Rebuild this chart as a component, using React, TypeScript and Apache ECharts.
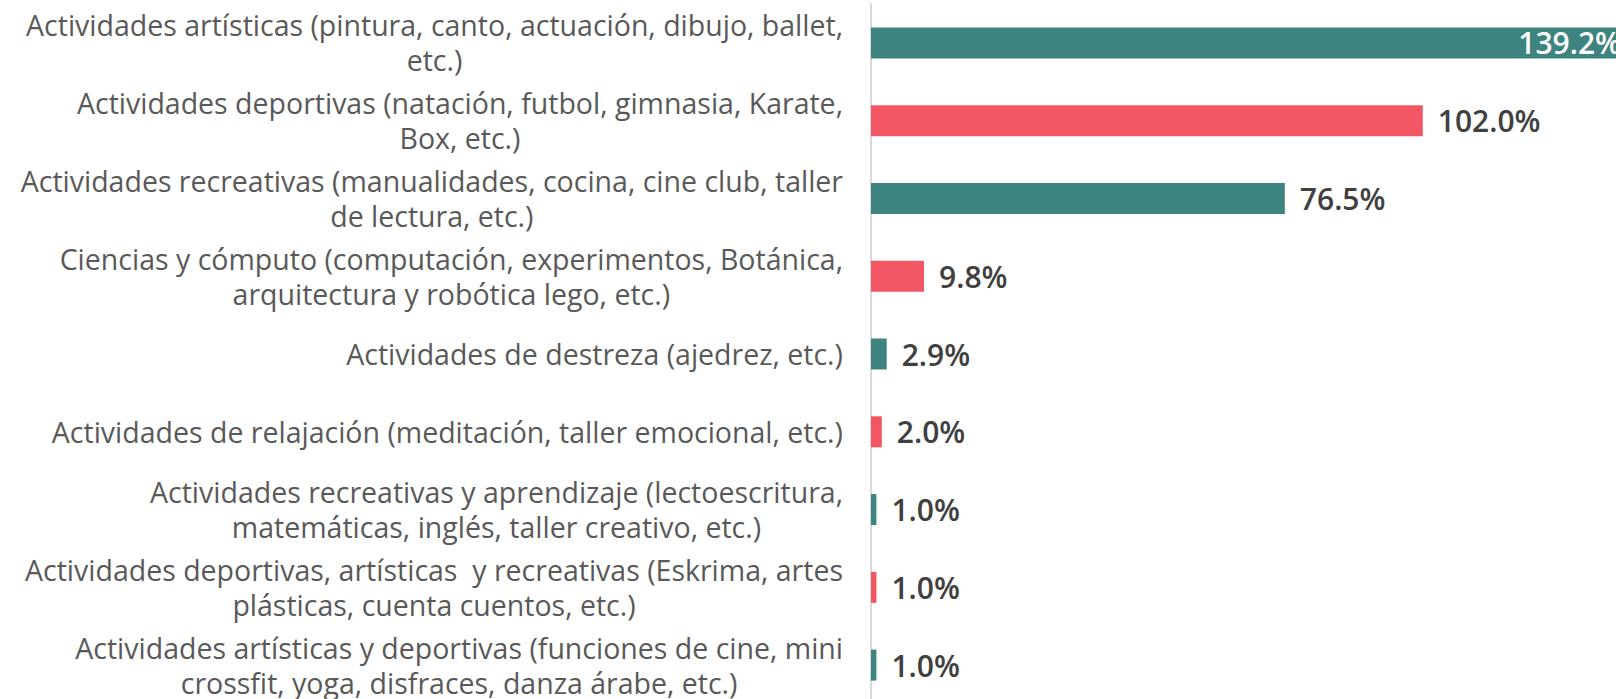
import React, { useEffect, useRef } from "react";
import * as echarts from "echarts";

const categories: string[] = [
  "Actividades artísticas (pintura, canto, actuación, dibujo, ballet,\netc.)",
  "Actividades deportivas (natación, futbol, gimnasia, Karate,\nBox, etc.)",
  "Actividades recreativas (manualidades, cocina, cine club, taller\nde lectura, etc.)",
  "Ciencias y cómputo (computación, experimentos, Botánica,\narquitectura y robótica lego, etc.)",
  "Actividades de destreza (ajedrez, etc.)",
  "Actividades de relajación (meditación, taller emocional, etc.)",
  "Actividades recreativas y aprendizaje (lectoescritura,\nmatemáticas, inglés, taller creativo, etc.)",
  "Actividades deportivas, artísticas  y recreativas (Eskrima, artes\nplásticas, cuenta cuentos, etc.)",
  "Actividades artísticas y deportivas (funciones de cine, mini\ncrossfit, yoga, disfraces, danza árabe, etc.)",
];

const values: number[] = [139.2, 102.0, 76.5, 9.8, 2.9, 2.0, 1.0, 1.0, 1.0];

const TEAL = "#3d8380";
const RED = "#f15662";

export default function App() {
  const ref = useRef<HTMLDivElement>(null);
  useEffect(() => {
    document.body.style.margin = "0";
    const chart = echarts.init(ref.current!, undefined, { renderer: "svg" });
    const data = values.map((v, i) => {
      const item: any = {
        value: v,
        itemStyle: { color: i % 2 === 0 ? TEAL : RED },
      };
      if (i === 0) {
        item.label = { position: "insideRight", color: "#ffffff", distance: 3 };
      }
      return item;
    });
    chart.setOption({
      animation: false,
      backgroundColor: "#ffffff",
      grid: {
        left: 871,
        width: 753,
        top: 4,
        height: 700,
        containLabel: false,
        outerBoundsMode: "none",
      },
      xAxis: {
        type: "value",
        min: 0,
        max: 139.2,
        show: false,
      },
      yAxis: {
        type: "category",
        inverse: true,
        data: categories,
        axisLine: { show: true, lineStyle: { color: "#d9d9d9", width: 2 } },
        axisTick: { show: false },
        axisLabel: {
          margin: 28,
          align: "right",
          formatter: (v: string) =>
            v
              .split("\n")
              .map((l) => `{c|${l}}`)
              .join("\n"),
          rich: {
            c: {
              align: "center",
              fontFamily: "Open Sans",
              fontSize: 28.5,
              lineHeight: 35,
              color: "#595959",
            },
          },
        },
      },
      series: [
        {
          type: "bar",
          data,
          barWidth: 31,
          label: {
            show: true,
            position: "right",
            distance: 15,
            formatter: (p: any) => p.value.toFixed(1) + "%",
            fontFamily: "Open Sans",
            fontWeight: 600,
            fontSize: 30,
            color: "#404040",
          },
        },
      ],
    });
    return () => chart.dispose();
  }, []);
  return <div ref={ref} style={{ width: 1616, height: 699 }} />;
}
